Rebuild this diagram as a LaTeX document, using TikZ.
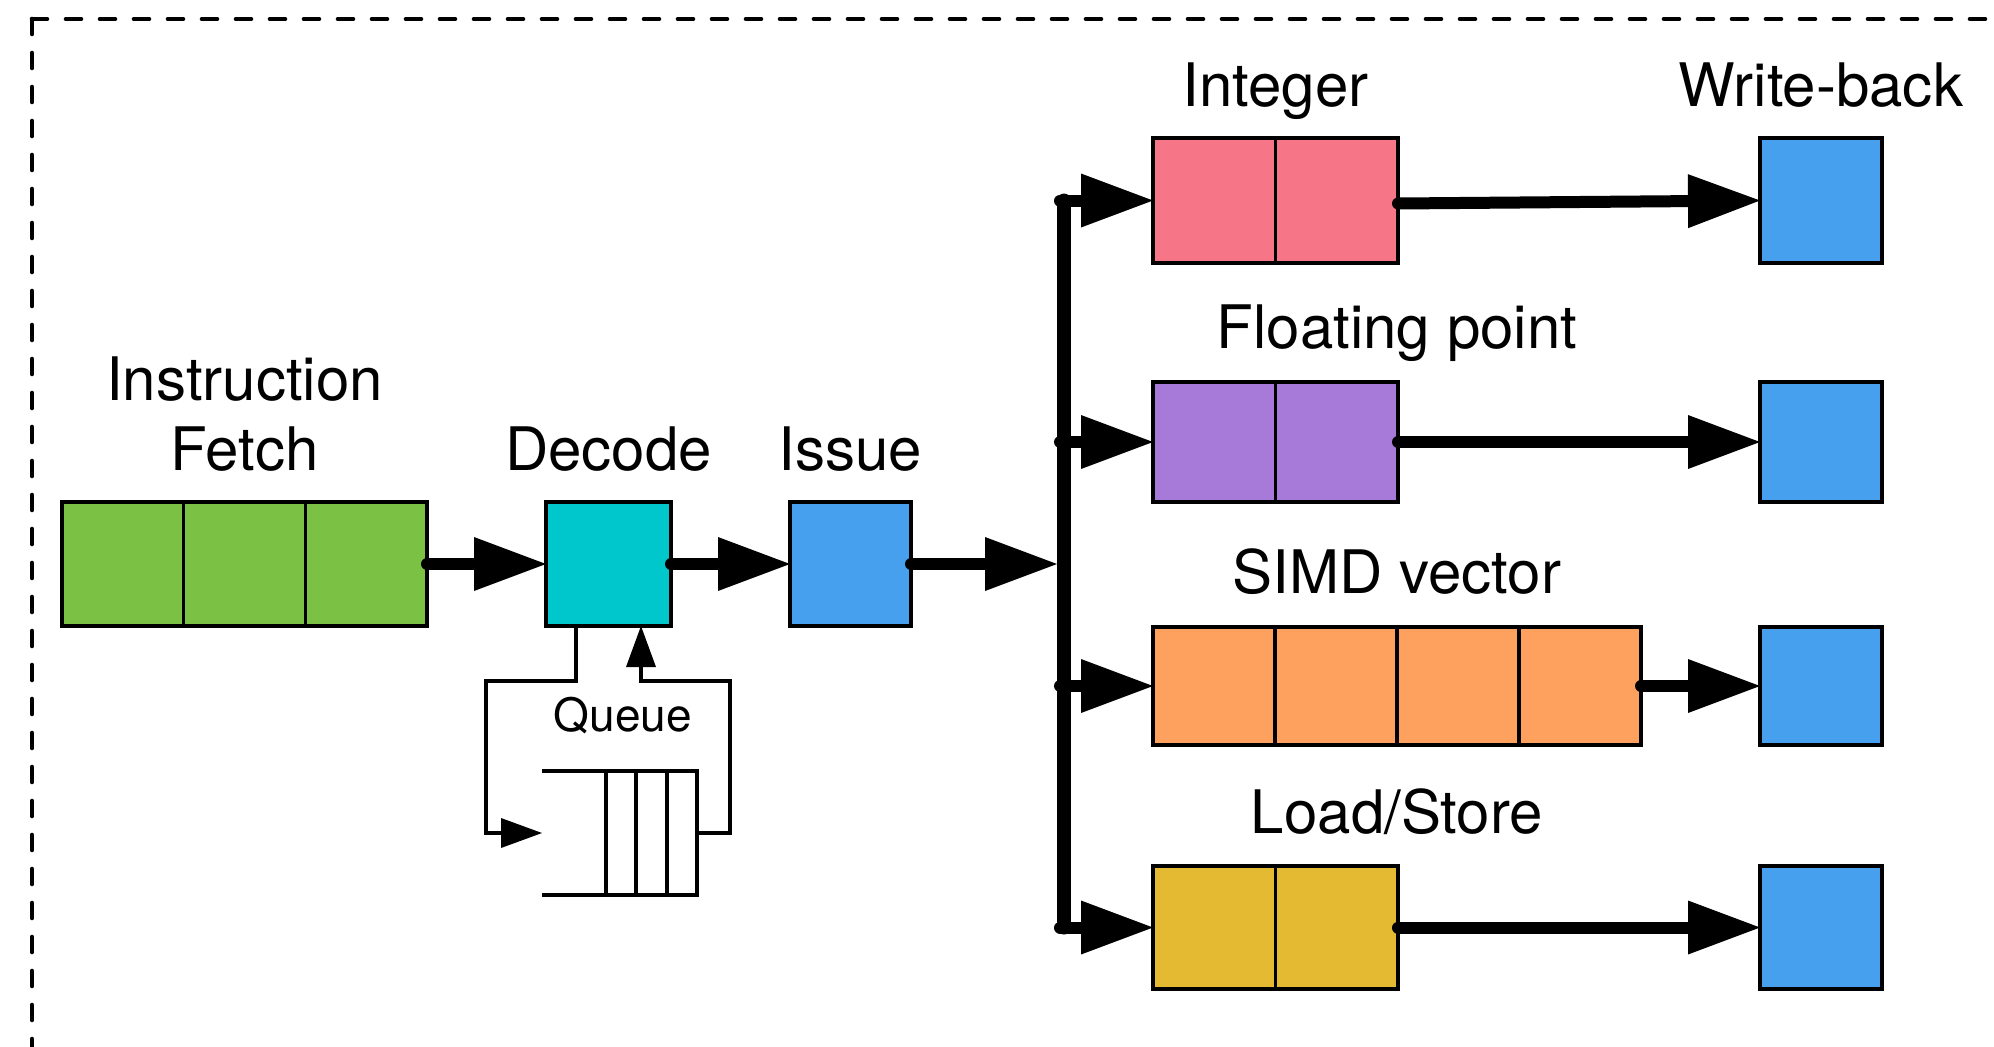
\documentclass[tikz,border=0pt]{standalone}
\usepackage{fontspec}
\setmainfont{TeX Gyre Heros}
\usetikzlibrary{arrows.meta,calc}

\definecolor{fetchgreen}{HTML}{7BC143}
\definecolor{decodecyan}{HTML}{00C7CB}
\definecolor{stageblue}{HTML}{47A0EE}
\definecolor{intpink}{HTML}{F67688}
\definecolor{fppurple}{HTML}{A77AD9}
\definecolor{simdorange}{HTML}{FFA15E}
\definecolor{lsgold}{HTML}{E3BA31}

\begin{document}
\begin{tikzpicture}[x=0.5pt,y=-0.5pt,
  stage/.style={draw=black, line width=1.9pt, inner sep=0pt, outer sep=0pt},
  cellline/.style={line width=1.75pt},
  bigarrow/.style={line width=6pt, line cap=round,
    -{Triangle[length=36pt,width=27pt,line width=0pt]}},
  thinarrow/.style={line width=1.8pt, line join=miter,
    -{Triangle[length=20.5pt,width=15pt,line width=0pt]}},
  qline/.style={line width=1.8pt},
  lbl/.style={anchor=base, inner sep=0pt, font=\fontsize{30pt}{35pt}\selectfont},
  smalllbl/.style={anchor=base, inner sep=0pt, font=\fontsize{23pt}{27pt}\selectfont},
  frame/.style={line width=2.3pt, line cap=round, dash pattern=on 7.5pt off 9.5pt}
]
\useasboundingbox (0,0) rectangle (1994,1046);

% dashed enclosure, running off the right and bottom edges
\begin{scope}
  \clip (0,0) rectangle (1994,1046);
  \draw[frame] (32,19) -- (2010,19);
  \draw[frame] (32,19) -- (32,1060);
\end{scope}

% front end
\node[stage, fill=fetchgreen, minimum width=182.5pt, minimum height=62pt] (if) at (244.5,564) {};
\node[stage, fill=decodecyan, minimum width=62.5pt, minimum height=62pt] (dec) at (608.5,564) {};
\node[stage, fill=stageblue, minimum width=60.5pt, minimum height=62pt] (iss) at (850.5,564) {};
\foreach \i in {1,2}
  \draw[cellline] ($(if.north west)!\i/3!(if.north east)$) -- ($(if.south west)!\i/3!(if.south east)$);

\node[lbl] (lbl-if) at (244.5,470) {\begin{tabular}[b]{@{}c@{}}Instruction\\Fetch\end{tabular}};
\node[lbl] (lbl-dec) at (608.5,470) {Decode};
\node[lbl] (lbl-iss) at (850.5,470) {Issue};

% execution units
\node[stage, fill=intpink, minimum width=122.5pt, minimum height=62.5pt] (int) at (1275.5,200.5) {};
\node[stage, fill=fppurple, minimum width=122.5pt, minimum height=60pt] (fp) at (1275.5,442) {};
\node[stage, fill=simdorange, minimum width=244pt, minimum height=59pt] (simd) at (1397,686) {};
\node[stage, fill=lsgold, minimum width=122.5pt, minimum height=61.5pt] (ls) at (1275.5,927.5) {};
\foreach \u in {int,fp,ls}
  \draw[cellline] ($(\u.north west)!0.5!(\u.north east)$) -- ($(\u.south west)!0.5!(\u.south east)$);
\foreach \i in {1,2,3}
  \draw[cellline] ($(simd.north west)!\i/4!(simd.north east)$) -- ($(simd.south west)!\i/4!(simd.south east)$);

\node[lbl] (lbl-int) at (1275.5,106) {Integer};
\node[lbl] (lbl-fp) at (1397,348) {Floating point};
\node[lbl] (lbl-simd) at (1397,593) {SIMD vector};
\node[lbl] (lbl-ls) at (1397,833) {Load/Store};

% write-back stages
\node[stage, fill=stageblue, minimum width=61pt, minimum height=62.5pt] (wb1) at (1821,200.5) {};
\node[stage, fill=stageblue, minimum width=61pt, minimum height=60pt] (wb2) at (1821,442) {};
\node[stage, fill=stageblue, minimum width=61pt, minimum height=59pt] (wb3) at (1821,686) {};
\node[stage, fill=stageblue, minimum width=61pt, minimum height=61.5pt] (wb4) at (1821,927.5) {};
\node[lbl] (lbl-wb) at (1821,106) {Write-back};

% pipeline flow
\draw[bigarrow] (if.east) -- (dec.west);
\draw[bigarrow] (dec.east) -- (iss.west);

% dispatch bus
\coordinate (bus-top) at (1064,200.5);
\coordinate (bus-bot) at (1064,927.5);
\draw[line width=7pt, line cap=round, line join=round] (bus-top) -- (bus-bot);
\draw[bigarrow] (iss.east) -- ([xshift=-3.5pt]bus-top |- iss.east);
\foreach \u in {int,fp,simd,ls}
  \draw[bigarrow] ([xshift=-2pt]bus-top |- \u.west) -- (\u.west);

\draw[bigarrow] ([yshift=-1.5pt]int.east) -- (wb1.west);
\draw[bigarrow] (fp.east) -- (wb2.west);
\draw[bigarrow] (simd.east) -- (wb3.west);
\draw[bigarrow] (ls.east) -- (wb4.west);

% decode queue
\node[inner sep=0pt, outer sep=0pt, minimum width=77.5pt, minimum height=62pt] (queue) at (619.5,833) {};
\draw[qline] (queue.north west) -- (queue.north east) -- (queue.south east) -- (queue.south west);
\foreach \x in {606,636,667}
  \draw[qline] (\x,771) -- (\x,895);
\node[smalllbl] (lbl-q) at (623,731) {Queue};

\draw[thinarrow] ($(dec.south west)+(30,0)$) -- ++(0,55) -| (486,833) -- (queue.west);
\draw[thinarrow] (queue.east) -- (730,833) |- (641,681) -- ($(dec.south west)+(95,0)$);
\end{tikzpicture}
\end{document}
